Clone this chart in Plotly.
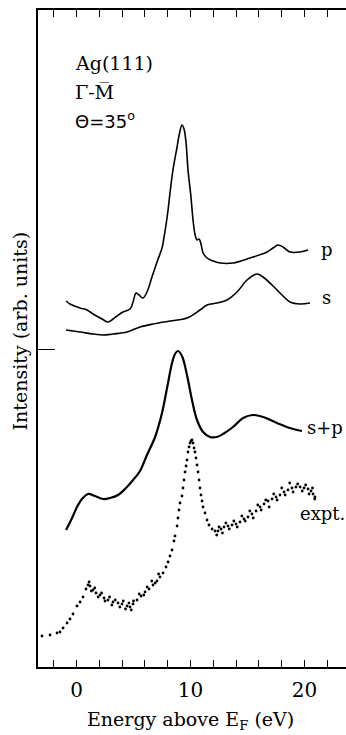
import plotly.graph_objects as go

# ---- data (energy in eV, intensity in arbitrary units) ----
p_energy = [-0.92, -0.57, 0.31, 0.92, 1.45, 2.24, 2.76, 3.20, 3.55, 4.08, 4.69, 4.96, 5.22, 5.48,
            5.83, 6.18, 6.62, 7.06, 7.50, 7.68, 7.85, 8.03, 8.20, 8.46, 8.82, 9.04, 9.25, 9.43,
            9.61, 9.78, 10.04, 10.22, 10.39, 10.57, 10.75, 10.92, 11.10, 11.45, 11.97, 12.59,
            13.73, 15.22, 16.71, 17.24, 17.68, 18.11, 18.73, 19.61, 20.31]
p_int = [36.6, 36.3, 35.9, 35.7, 35.3, 34.8, 34.5, 34.8, 35.1, 35.5, 35.8, 36.5, 37.4, 37.2,
         36.9, 37.5, 39.0, 40.5, 41.9, 43.0, 44.2, 45.7, 47.4, 49.7, 52.0, 53.4, 54.2, 53.8,
         52.4, 49.7, 47.0, 44.7, 43.3, 42.7, 42.8, 42.3, 41.4, 40.9, 40.6, 40.4,
         40.4, 40.9, 41.5, 41.9, 42.2, 42.0, 41.5, 41.5, 41.7]

s_energy = [-0.92, 0.31, 1.45, 2.32, 3.20, 4.43, 5.57, 6.71, 8.20, 9.69, 10.83, 11.45, 12.32,
            13.20, 14.08, 14.96, 15.83, 16.36, 17.15, 18.03, 18.73, 19.61, 20.48]
s_int = [33.7, 33.5, 33.3, 33.2, 33.3, 33.5, 34.0, 34.3, 34.6, 34.9, 35.7, 36.2, 36.4,
         36.7, 37.5, 38.7, 39.3, 39.0, 38.2, 37.2, 36.5, 36.3, 36.4]

sp_energy = [-0.92, -0.39, 0.04, 0.48, 1.01, 1.62, 2.32, 2.94, 3.64, 4.34, 4.96, 5.57, 6.18,
             6.89, 7.50, 7.94, 8.38, 8.64, 8.90, 9.25, 9.69, 10.13, 10.57, 11.10, 11.71, 12.32,
             12.85, 13.73, 14.61, 15.48, 16.36, 17.59, 18.73, 19.78]
sp_int = [13.7, 14.9, 16.0, 16.8, 17.3, 17.1, 16.8, 16.9, 17.2, 17.9, 18.7, 19.6, 21.2,
          23.0, 25.4, 27.9, 30.4, 31.3, 31.6, 31.1, 29.2, 26.7, 24.7, 23.5, 23.0, 23.0,
          23.3, 24.0, 24.9, 25.2, 25.0, 24.4, 23.9, 23.6]

expt_energy = [-3.03, -2.32, -1.71, -1.45, -1.18, -0.83, -0.57, -0.31, 0.04, 0.31, 0.57, 0.83,
               1.01, 1.18, 1.45, 1.71, 2.06, 2.41, 2.76, 3.20, 3.64, 3.99, 4.43, 4.69, 4.96,
               5.31, 5.66, 6.01, 6.36, 6.71, 7.06, 7.32, 7.59, 7.85, 8.03, 8.20, 8.38, 8.55,
               8.64, 8.82, 8.90, 8.99, 9.08, 9.25, 9.34, 9.43, 9.52, 9.61, 9.69, 9.78, 9.87,
               9.96, 10.04, 10.13, 10.22, 10.31, 10.39, 10.48, 10.57, 10.66, 10.75, 10.83,
               10.92, 11.01, 11.10, 11.27, 11.45, 11.62, 11.89, 12.15, 12.41, 12.68, 12.94,
               13.29, 13.64, 13.99, 14.34, 14.69, 15.04, 15.39, 15.75, 16.10, 16.45, 16.80,
               17.15, 17.50, 17.85, 18.20, 18.55, 18.90, 19.25, 19.61, 19.96, 20.31, 20.57,
               20.75, 20.92,
               1.1, 1.3, 1.6, 1.9, 2.2, 2.5, 2.9, 3.1, 3.4, 3.8, 4.1, 4.3, 4.6, 4.8, 5.0,
               5.5, 5.9, 6.2, 6.6, 6.9, 7.2,
               12.3, 12.5, 12.8, 13.1, 13.4, 13.8, 14.1, 14.5, 14.8, 15.2, 15.5, 15.9, 16.2,
               16.6, 16.9, 17.3, 17.6, 18.0, 18.3, 18.7, 19.0, 19.4, 19.8, 20.1, 20.4, 20.7,
               20.9]
expt_int = [3.1, 3.2, 3.4, 3.5, 3.9, 4.4, 4.8, 5.3, 6.1, 6.5, 7.0, 7.8,
            8.2, 8.1, 7.7, 7.4, 7.2, 6.9, 6.7, 6.5, 6.4, 6.3, 6.1, 6.0, 6.3,
            6.7, 7.1, 7.5, 7.8, 8.2, 8.6, 9.0, 9.4, 10.0, 10.5, 11.1, 11.7, 12.6,
            13.1, 14.1, 14.9, 15.7, 16.4, 17.1, 17.9, 18.7, 19.5, 20.1, 20.7, 21.5, 22.0,
            22.4, 22.6, 22.7, 22.4, 21.9, 21.5, 20.9, 20.2, 19.5, 18.7, 17.9,
            17.2, 16.6, 16.0, 15.4, 14.7, 14.2, 13.8, 13.6, 13.6, 13.8, 14.0,
            14.1, 14.2, 14.3, 14.5, 14.8, 15.0, 15.3, 15.6, 16.0, 16.3, 16.6,
            16.8, 17.0, 17.2, 17.5, 17.7, 17.9, 18.0, 18.0, 17.9, 17.8, 17.6,
            17.3, 17.0,
            8.5, 7.6, 7.9, 7.0, 7.4, 6.6, 7.0, 6.2, 6.7, 6.0, 6.6, 5.8, 6.4, 5.7, 6.6,
            7.3, 7.2, 8.0, 8.6, 8.4, 9.3,
            13.2, 14.0, 13.4, 14.4, 13.8, 14.6, 14.0, 15.1, 14.6, 15.6, 14.9, 16.2, 15.7,
            16.7, 16.0, 17.3, 16.7, 17.9, 17.2, 18.4, 17.5, 18.3, 17.6, 18.2, 17.3, 17.9,
            16.8]

x_tick_vals = [-2, 0, 2, 4, 6, 8, 10, 12, 14, 16, 18, 20, 22]
x_tick_text = ["", "0", "", "", "", "", "10", "", "", "", "", "20", ""]
zero_level = 31.8

SERIF = "DejaVu Serif"
SANS = "DejaVu Sans"

fig = go.Figure()
fig.add_trace(go.Scatter(x=p_energy, y=p_int, mode="lines", line=dict(color="black", width=1.6, shape="spline")))
fig.add_trace(go.Scatter(x=s_energy, y=s_int, mode="lines", line=dict(color="black", width=1.6, shape="spline")))
fig.add_trace(go.Scatter(x=sp_energy, y=sp_int, mode="lines", line=dict(color="black", width=2.2, shape="spline")))
fig.add_trace(go.Scatter(x=expt_energy, y=expt_int, mode="markers", marker=dict(color="black", size=2.8)))

ann = dict(showarrow=False, font=dict(family=SERIF, size=18, color="black"))
fig.add_annotation(x=21.3, y=41.8, text="p", xanchor="left", **ann)
fig.add_annotation(x=21.4, y=37.0, text="s", xanchor="left", **ann)
fig.add_annotation(x=20.0, y=24.0, text="s+p", xanchor="left", **ann)
fig.add_annotation(x=19.4, y=15.4, text="expt.", xanchor="left", **ann)

fig.add_annotation(x=-0.35, y=60.4, text="Ag(111)", xanchor="left", showarrow=False,
                   font=dict(family=SERIF, size=19, color="black"))
fig.add_annotation(x=-0.35, y=57.5, text="\u0393\u0305-M\u0305", xanchor="left", showarrow=False,
                   font=dict(family=SERIF, size=19, color="black"))
fig.add_annotation(x=-0.35, y=54.7, text="\u0398=35<sup>o</sup>", xanchor="left", showarrow=False,
                   font=dict(family=SANS, size=18, color="black"))

# axis titles
fig.add_annotation(xref="paper", yref="paper", x=0.495, y=-0.081, text="Energy above E<sub>F</sub> (eV)",
                   showarrow=False, xanchor="center", yanchor="middle",
                   font=dict(family=SERIF, size=19, color="black"))
fig.add_annotation(xref="paper", yref="paper", x=-0.058, y=0.511, text="Intensity (arb. units)",
                   textangle=-90, showarrow=False, xanchor="center", yanchor="middle",
                   font=dict(family=SERIF, size=19, color="black"))

fig.update_xaxes(range=[-3.38, 23.64], showline=True, linecolor="black", linewidth=1.5,
                 mirror="ticks", ticks="inside", ticklen=7, tickwidth=1.2, tickcolor="black",
                 tickvals=x_tick_vals, ticktext=x_tick_text, showgrid=False, zeroline=False,
                 automargin=False, ticklabelstandoff=4,
                 tickfont=dict(family=SERIF, size=20, color="black"))
fig.update_yaxes(range=[0, 65.7], showline=True, linecolor="black", linewidth=1.5,
                 mirror=False, ticks="inside", ticklen=17, tickwidth=1.2, tickcolor="black",
                 tickvals=[zero_level], ticktext=[""], showgrid=False, zeroline=False,
                 automargin=False)

fig.update_layout(width=346, height=735, margin=dict(l=38, r=0, t=10, b=68),
                  plot_bgcolor="white", paper_bgcolor="white", showlegend=False)

fig.write_html("out.html", config={"displayModeBar": False},
               post_script="document.body.style.margin='0';document.documentElement.style.overflow='hidden';")
